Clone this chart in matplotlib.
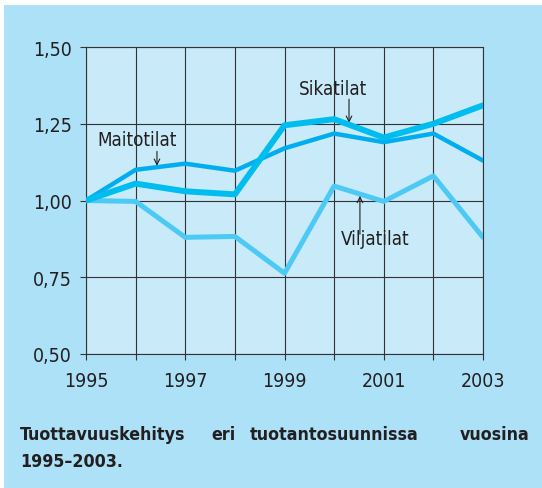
import matplotlib
matplotlib.use('agg')
import matplotlib.pyplot as plt
from matplotlib.patches import Rectangle

years = [1995, 1996, 1997, 1998, 1999, 2000, 2001, 2002, 2003]
sikatilat = [1.00, 1.055, 1.03, 1.02, 1.245, 1.265, 1.205, 1.25, 1.31]
maitotilat = [1.00, 1.10, 1.12, 1.097, 1.17, 1.218, 1.19, 1.218, 1.13]
viljatilat = [1.00, 0.997, 0.88, 0.883, 0.763, 1.047, 0.997, 1.08, 0.88]

yticks = [0.50, 0.75, 1.00, 1.25, 1.50]
ytick_labels = ["0,50", "0,75", "1,00", "1,25", "1,50"]
xtick_labels = ["1995", "1997", "1999", "2001", "2003"]

plt.rcParams['font.family'] = ['DejaVu Sans']
plt.rcParams['font.stretch'] = 'condensed'
ink = '#231f20'

fig = plt.figure(figsize=(5.42, 4.89), dpi=100, facecolor='white')
fig.patches.append(Rectangle((4 / 542, 0), 1, 483 / 489, transform=fig.transFigure,
                             facecolor='#ade1f8', edgecolor='none', zorder=-1))

ax = fig.add_axes([86 / 542, 1 - 355 / 489, 397 / 542, 307 / 489])
ax.set_facecolor('#c8eaf9')

ax.plot(years, viljatilat, color='#4ccaf5', lw=3.6, solid_capstyle='round', zorder=3)
ax.plot(years, maitotilat, color='#00aeef', lw=3.2, solid_capstyle='round', zorder=4)
ax.plot(years, sikatilat, color='#00bdf0', lw=4.3, solid_capstyle='round', zorder=5)

ax.set_xlim(1995, 2003)
ax.set_ylim(0.5, 1.5)
ax.set_xticks(years)
ax.set_xticklabels([str(y) if str(y) in xtick_labels else '' for y in years])
ax.set_yticks(yticks)
ax.set_yticklabels(ytick_labels)
ax.grid(True, color='#333333', lw=0.8, zorder=1)
ax.set_axisbelow(True)
for s in ax.spines.values():
    s.set_color('#333333')
    s.set_linewidth(0.8)
ax.tick_params(direction='out', length=4, width=0.8, color='#333333',
               labelsize=14, labelcolor=ink)
ax.tick_params(axis='x', pad=8)
ax.tick_params(axis='y', pad=6)

arrow = dict(arrowstyle='->', color=ink, lw=0.8, shrinkA=0, shrinkB=0)
ax.text(1996.02, 1.20, 'Maitotilat', ha='center', va='center', fontsize=13.5, color=ink)
ax.annotate('', xy=(1996.43, 1.113), xytext=(1996.43, 1.16), arrowprops=arrow)
ax.text(1999.98, 1.364, 'Sikatilat', ha='center', va='center', fontsize=13.5, color=ink)
ax.annotate('', xy=(2000.3, 1.253), xytext=(2000.3, 1.33), arrowprops=arrow)
ax.text(2000.82, 0.877, 'Viljatilat', ha='center', va='center', fontsize=13.5, color=ink)
ax.annotate('', xy=(2000.52, 1.015), xytext=(2000.52, 0.89), arrowprops=arrow)

# justified caption, first line spread across the panel
words = ['Tuottavuuskehitys', 'eri', 'tuotantosuunnissa', 'vuosina']
for w, x, ha in zip(words, [20, 224, 334, 530], ['left', 'center', 'center', 'right']):
    fig.text(x / 542, 1 - 435 / 489, w, ha=ha, va='center', fontsize=12.8,
             fontweight='bold', color=ink)
fig.text(20 / 542, 1 - 462 / 489, '1995–2003.', ha='left', va='center', fontsize=12.8,
         fontweight='bold', color=ink)

fig.savefig('out.png', dpi=100, facecolor='white')
